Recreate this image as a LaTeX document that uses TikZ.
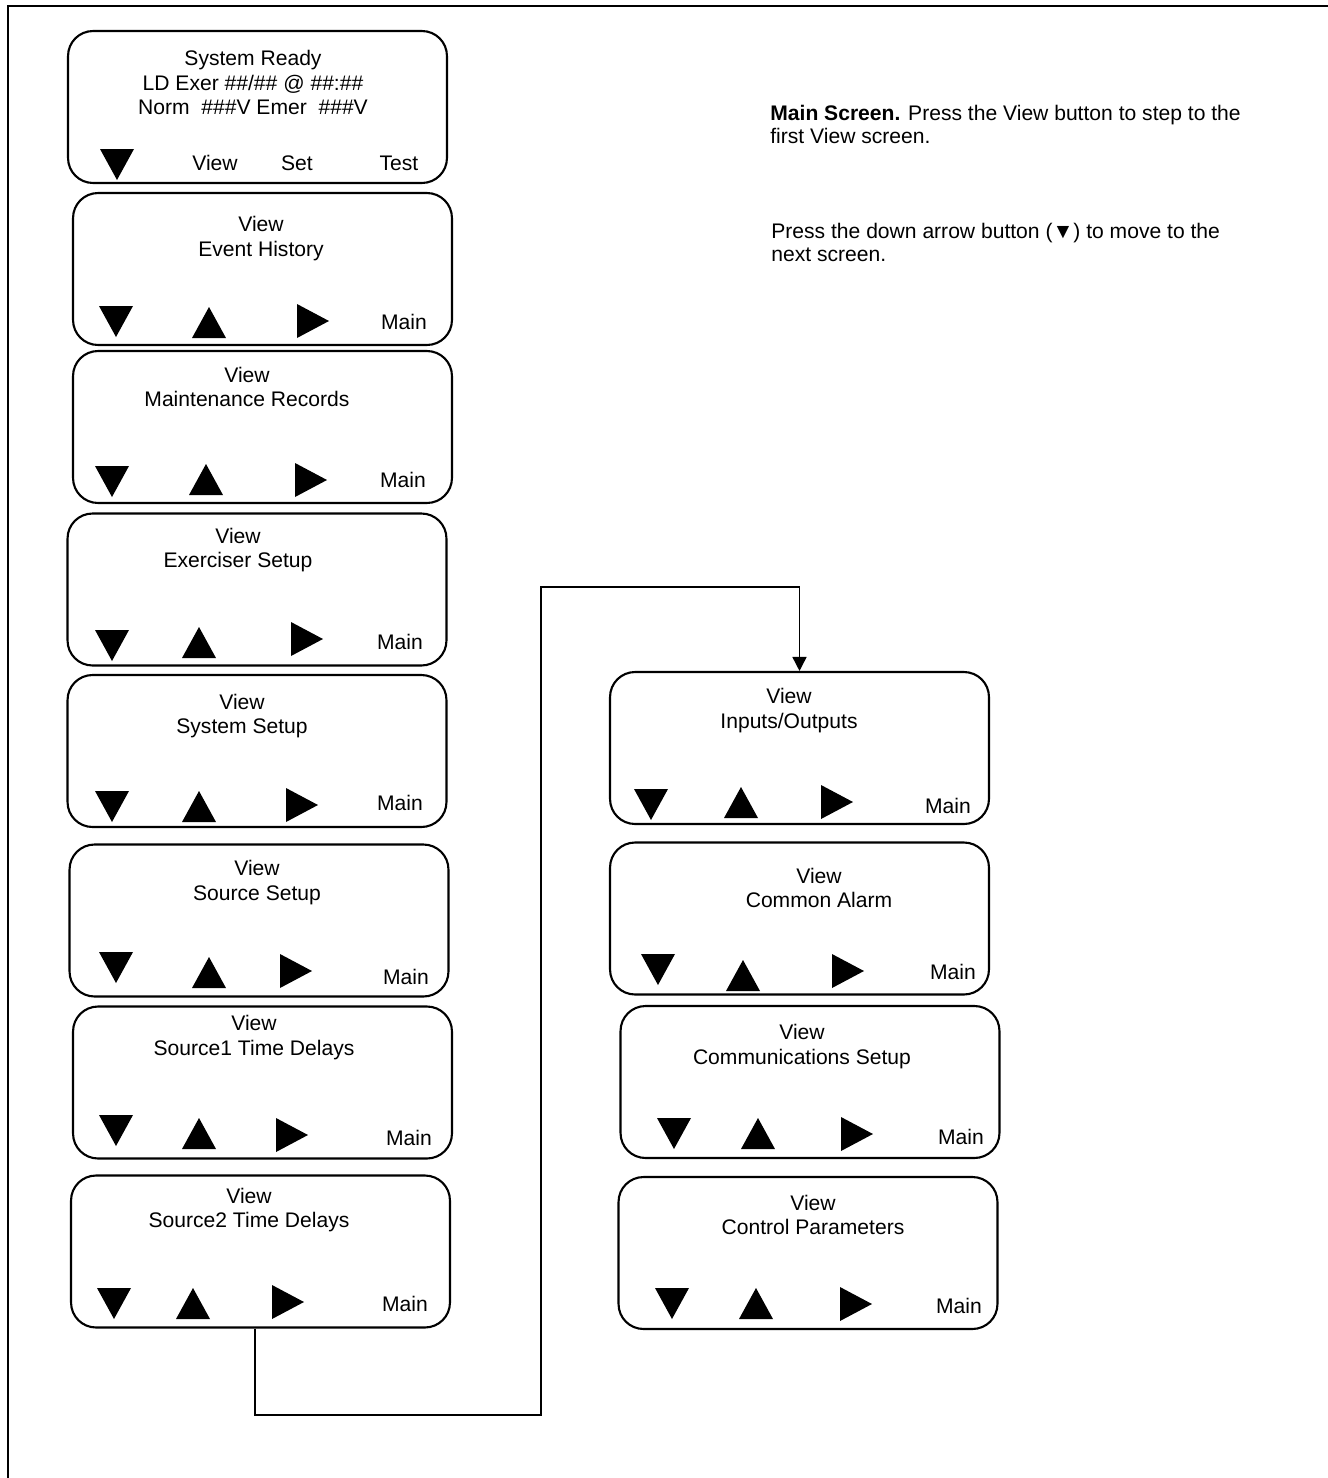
\documentclass[tikz,border=0pt]{standalone}
\usepackage{fontspec}
\setmainfont{Liberation Sans}
\usetikzlibrary{arrows.meta}

\begin{document}
\begin{tikzpicture}[
  x=0.02cm, y=-0.02cm,
  screen/.style={
    draw=black,
    line width=1.2pt,
    rounded corners=0.5cm,
    minimum width=7.58cm,
    minimum height=3.04cm,
    inner sep=0pt
  },
  screentext/.style={
    font=\fontsize{12}{14}\selectfont,
    align=center,
    inner sep=0pt
  },
  softkey/.style={
    font=\fontsize{12}{14}\selectfont,
    anchor=base,
    inner sep=0pt
  },
  notetext/.style={
    font=\fontsize{12}{13}\selectfont,
    anchor=north west,
    align=left,
    inner sep=0pt
  },
  conn/.style={line width=0.9pt},
  dn/.pic={\fill (-17,-16) -- (17,-16) -- (0,15) -- cycle;},
  up/.pic={\fill (-17,15) -- (17,15) -- (0,-16) -- cycle;},
  rt/.pic={\fill (-16,-17) -- (-16,17) -- (16,0) -- cycle;}
]
\useasboundingbox (0,0) rectangle (1328,1478);
\draw[line width=1.1pt] (8,1478) -- (8,6) -- (1328,6);

% main screen
\node[screen] (home) at (257.5,107) {};
\node[screentext] (hometxt) at (253,82.5)
  {System Ready\\LD Exer \#\#/\#\# @ \#\#:\#\#\\Norm\ \ \#\#\#V Emer\ \ \#\#\#V};
\pic at (117,165) {dn};
\node[softkey] (homeview) at (215,170) {View};
\node[softkey] (homeset) at (297,170) {Set};
\node[softkey] (hometest) at (399,170) {Test};

\node[notetext] (note1) at (770,105)
  {\textbf{Main Screen.} Press the View button to step to the\\first View screen.};
\node[notetext] (note2) at (771,223)
  {Press the down arrow button (▼) to move to the\\next screen.};

% view screens, left column
\node[screen] (evhist) at (262.5,269) {};
\node[screentext] (evhisttxt) at (261,238.5) {View\\Event History};
\pic at (116,322) {dn}; \pic at (209,323) {up}; \pic at (313,321) {rt};
\node[softkey] (evhistmain) at (404,329) {Main};

\node[screen] (maint) at (262.5,427) {};
\node[screentext] (mainttxt) at (247,387) {View\\Maintenance Records};
\pic at (112,482) {dn}; \pic at (206,480) {up}; \pic at (311,480) {rt};
\node[softkey] (maintmain) at (403,487) {Main};

\node[screen] (exer) at (257,589.5) {};
\node[screentext] (exertxt) at (238,550) {View\\Exerciser Setup};
\pic at (112,646) {dn}; \pic at (199,643) {up}; \pic at (307,639) {rt};
\node[softkey] (exermain) at (400,649) {Main};

\node[screen] (sys) at (257,751) {};
\node[screentext] (systxt) at (242,716) {View\\System Setup};
\pic at (112,807) {dn}; \pic at (199,807) {up}; \pic at (302,805) {rt};
\node[softkey] (sysmain) at (400,810) {Main};

\node[screen] (src) at (259,920.5) {};
\node[screentext] (srctxt) at (257,882.5) {View\\Source Setup};
\pic at (116,968) {dn}; \pic at (209,973) {up}; \pic at (296,971) {rt};
\node[softkey] (srcmain) at (406,984) {Main};

\node[screen] (srcone) at (262.5,1082.5) {};
\node[screentext] (srconetxt) at (254,1037.5) {View\\Source1 Time Delays};
\pic at (116,1131) {dn}; \pic at (199,1134) {up}; \pic at (292,1135) {rt};
\node[softkey] (srconemain) at (409,1145) {Main};

\node[screen] (srctwo) at (260.5,1251.5) {};
\node[screentext] (srctwotxt) at (249,1210) {View\\Source2 Time Delays};
\pic at (114,1304) {dn}; \pic at (193,1304) {up}; \pic at (288,1302) {rt};
\node[softkey] (srctwomain) at (405,1311) {Main};

% view screens, right column
\node[screen] (io) at (799.5,748) {};
\node[screentext] (iotxt) at (789,710.5) {View\\Inputs/Outputs};
\pic at (651,805) {dn}; \pic at (741,803) {up}; \pic at (837,802) {rt};
\node[softkey] (iomain) at (948,813) {Main};

\node[screen] (alarm) at (799.5,918.5) {};
\node[screentext] (alarmtxt) at (819,888) {View\\Common Alarm};
\pic at (658,970) {dn}; \pic at (743,976) {up}; \pic at (848,971) {rt};
\node[softkey] (alarmmain) at (953,979) {Main};

\node[screen] (comm) at (810,1082) {};
\node[screentext] (commtxt) at (802,1046.5) {View\\Communications Setup};
\pic at (674,1134) {dn}; \pic at (758,1134) {up}; \pic at (857,1134) {rt};
\node[softkey] (commmain) at (961,1144) {Main};

\node[screen] (ctrl) at (808,1253) {};
\node[screentext] (ctrltxt) at (813,1215) {View\\Control Parameters};
\pic at (672,1304) {dn}; \pic at (756,1304) {up}; \pic at (856,1304) {rt};
\node[softkey] (ctrlmain) at (959,1313) {Main};

% link between the columns
\coordinate (bendlow) at (541,1415);
\coordinate (bendhigh) at (541,587);
\draw[conn, -{Triangle[width=0.28cm, length=0.28cm]}]
  ([xshift=-0.11cm]srctwo.south) |- (bendlow) -- (bendhigh) -| (io.north);

\end{tikzpicture}
\end{document}
